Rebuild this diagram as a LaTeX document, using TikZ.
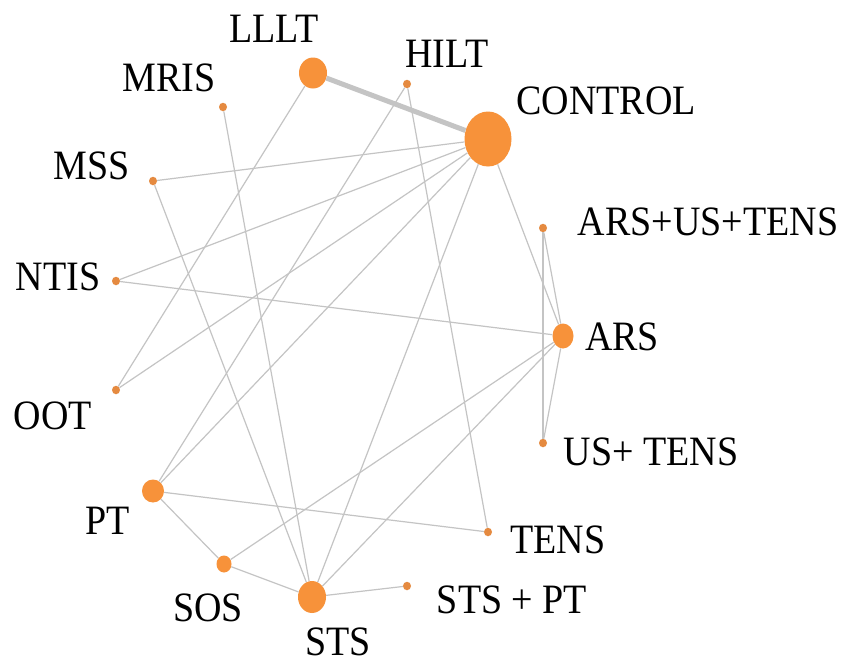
\documentclass[tikz,border=0pt]{standalone}
\usepackage{fontspec}
\setmainfont{Liberation Serif}
\usetikzlibrary{shapes.geometric}
\definecolor{dotbig}{HTML}{F7923A}
\definecolor{dotsmall}{HTML}{E58A40}
\definecolor{edgegray}{HTML}{C4C4C4}
\newcommand{\lbl}[1]{\scalebox{1}[1.1]{#1}}
\tikzset{
  dot/.style={ellipse, fill=dotbig, draw=none, inner sep=0pt},
  sdot/.style={ellipse, fill=dotsmall, draw=none, inner sep=0pt, minimum width=8pt, minimum height=8.5pt},
  lab/.style={inner sep=0pt, font=\fontsize{38}{40}\selectfont, text=black},
  edge/.style={draw=edgegray, line width=1.2pt},
  thickedge/.style={draw=edgegray, line width=5pt}
}
\begin{document}
\begin{tikzpicture}[x=1pt,y=-1pt]
\useasboundingbox (0,0) rectangle (846,664);
\fill[white] (0,0) rectangle (846,664);
% dots
\node[dot, minimum width=47pt, minimum height=55pt] (CONTROL) at (488,139) {};
\node[dot, minimum width=28pt, minimum height=31pt] (LLLT) at (313,73) {};
\node[dot, minimum width=28pt, minimum height=32pt] (STS) at (312,597) {};
\node[dot, minimum width=22pt, minimum height=23pt] (PT) at (153,491) {};
\node[dot, minimum width=21pt, minimum height=25pt] (ARS) at (563,336) {};
\node[dot, minimum width=15pt, minimum height=17pt] (SOS) at (224,564) {};
\node[sdot] (HILT) at (407,84) {};
\node[sdot] (MRIS) at (223,107) {};
\node[sdot] (MSS) at (153,181) {};
\node[sdot] (NTIS) at (116,281) {};
\node[sdot] (OOT) at (116,390) {};
\node[sdot] (ARSUSTENS) at (543,228) {};
\node[sdot] (USTENS) at (543,443) {};
\node[sdot] (TENS) at (488,532) {};
\node[sdot] (STSPT) at (407,586) {};
% edges
\draw[thickedge] (LLLT) -- (CONTROL);
\draw[edge] (LLLT) -- (OOT);
\draw[edge] (HILT) -- (PT);
\draw[edge] (HILT) -- (TENS);
\draw[edge] (MRIS) -- (STS);
\draw[edge] (MSS) -- (CONTROL);
\draw[edge] (MSS) -- (STS);
\draw[edge] (NTIS) -- (CONTROL);
\draw[edge] (NTIS) -- (ARS);
\draw[edge] (OOT) -- (CONTROL);
\draw[edge] (CONTROL) -- (PT);
\draw[edge] (CONTROL) -- (STS);
\draw[edge] (CONTROL) -- (ARS);
\draw[edge] (ARSUSTENS) -- (ARS);
\draw[edge] (ARSUSTENS) -- (USTENS);
\draw[edge] (USTENS) -- (ARS);
\draw[edge] (ARS) -- (SOS);
\draw[edge] (ARS) -- (STS);
\draw[edge] (PT) -- (TENS);
\draw[edge] (PT) -- (SOS);
\draw[edge] (SOS) -- (STS);
\draw[edge] (STS) -- (STSPT);
% labels
\node[lab] (tLLLT) at (274,29) {\lbl{LLLT}};
\node[lab] (tHILT) at (447,54) {\lbl{HILT}};
\node[lab] (tCONTROL) at (606,101) {\lbl{CONTROL}};
\node[lab] (tMRIS) at (169,78) {\lbl{MRIS}};
\node[lab] (tMSS) at (92,166) {\lbl{MSS}};
\node[lab] (tNTIS) at (58,277) {\lbl{NTIS}};
\node[lab] (tOOT) at (53,416) {\lbl{OOT}};
\node[lab] (tARSUSTENS) at (708,222) {\lbl{ARS+US+TENS}};
\node[lab] (tARS) at (622,337) {\lbl{ARS}};
\node[lab] (tUSTENS) at (651,452) {\lbl{US+ TENS}};
\node[lab] (tPT) at (108,521) {\lbl{PT}};
\node[lab] (tTENS) at (558,540) {\lbl{TENS}};
\node[lab] (tSOS) at (208,608) {\lbl{SOS}};
\node[lab] (tSTSPT) at (512,600) {\lbl{STS + PT}};
\node[lab] (tSTS) at (338,642) {\lbl{STS}};
\end{tikzpicture}
\end{document}
